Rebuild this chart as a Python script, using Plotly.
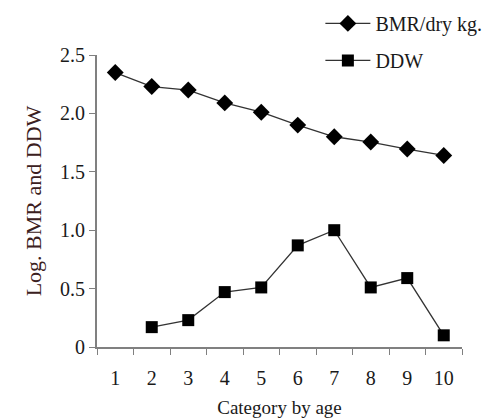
import plotly.graph_objects as go

categories = ["1", "2", "3", "4", "5", "6", "7", "8", "9", "10"]
bmr = [2.35, 2.23, 2.20, 2.09, 2.01, 1.90, 1.80, 1.755, 1.695, 1.64]
ddw_cats = ["2", "3", "4", "5", "6", "7", "8", "9", "10"]
ddw = [0.17, 0.23, 0.47, 0.51, 0.87, 1.00, 0.51, 0.59, 0.10]
ytick_vals = [0, 0.5, 1.0, 1.5, 2.0, 2.5]
ytick_text = ["0", "0.5", "1.0", "1.5", "2.0", "2.5"]

font_family = "Liberation Serif"

fig = go.Figure()
fig.add_trace(go.Scatter(
    x=categories, y=bmr, mode="lines+markers", name="BMR/dry kg.",
    line=dict(color="#333333", width=1.3),
    marker=dict(symbol="diamond", size=13, color="black"),
    legendgroup="a",
))
fig.add_trace(go.Scatter(
    x=ddw_cats, y=ddw, mode="lines+markers", name="DDW",
    line=dict(color="#333333", width=1.3),
    marker=dict(symbol="square", size=12, color="black"),
    legendgroup="b",
))

fig.update_layout(
    width=500, height=419,
    margin=dict(l=97, r=38, t=55, b=72, autoexpand=False),
    paper_bgcolor="white", plot_bgcolor="white",
    font=dict(family=font_family, size=20, color="#1a1a1a"),
    showlegend=True,
    legend=dict(
        x=0.612, y=1.175, xanchor="left", yanchor="top",
        bgcolor="rgba(0,0,0,0)", font=dict(size=20, family=font_family),
        tracegroupgap=8, traceorder="grouped", itemwidth=45,
    ),
    xaxis=dict(
        type="category", categoryorder="array", categoryarray=categories,
        range=[-0.5, 9.5], tickson="boundaries", ticks="outside", ticklen=6,
        tickcolor="#808080", showline=True, linecolor="#808080", linewidth=2,
        showgrid=False, zeroline=False, ticklabelstandoff=12,
        title=dict(text="Category by age", font=dict(size=19), standoff=13),
        tickfont=dict(size=20),
    ),
    yaxis=dict(
        range=[0, 2.5], tickvals=ytick_vals, ticktext=ytick_text,
        ticks="outside", ticklen=6, tickcolor="#808080",
        showline=True, linecolor="#808080", linewidth=2,
        showgrid=False, zeroline=False,
        title=dict(text="Log. BMR and DDW", font=dict(size=22, color="#3b2020"), standoff=12),
        tickfont=dict(size=20),
    ),
)

fig.write_html("out.html")
